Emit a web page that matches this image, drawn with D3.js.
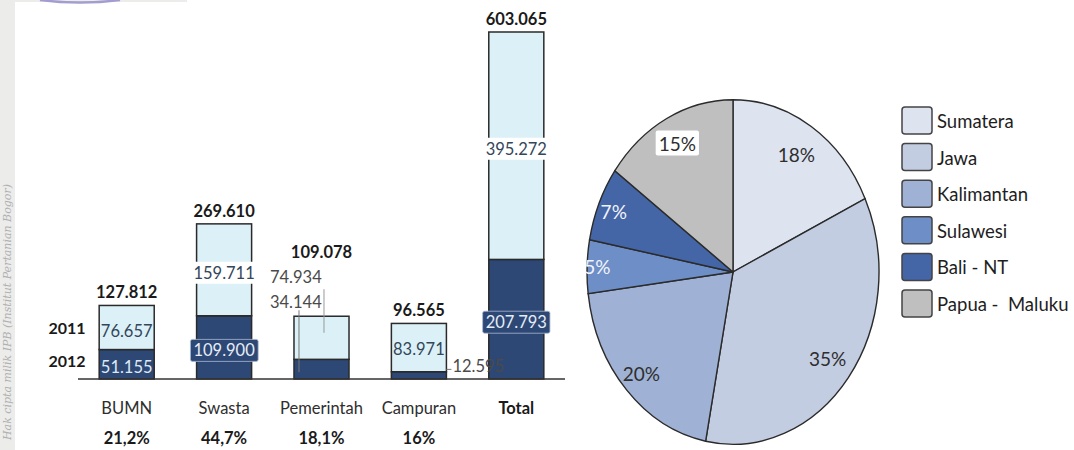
<!DOCTYPE html>
<html><head><meta charset="utf-8">
<script src="https://cdn.jsdelivr.net/npm/d3@7"></script>
<style>body{margin:0;background:#fff} svg{display:block} text{white-space:pre}</style>
</head><body><svg id="c" width="1074" height="450"></svg>
<script>
// ---- data ----
const categories = ["BUMN", "Swasta", "Pemerintah", "Campuran", "Total"];
const shareLabels = ["21,2%", "44,7%", "18,1%", "16%", ""];
const values2012 = [51.155, 109.900, 34.144, 12.595, 207.793];
const values2011 = [76.657, 159.711, 74.934, 83.971, 395.272];
const totals = [127.812, 269.610, 109.078, 96.565, 603.065];
const yearLabels = ["2011", "2012"];
const regions = ["Sumatera", "Jawa", "Kalimantan", "Sulawesi", "Bali - NT", "Papua -  Maluku"];
const regionShares = [18, 35, 20, 5, 7, 15];

// ---- styles / layout ----
const FONT = "Lato, 'Open Sans', sans-serif";
const DARK = "#2d4874", LIGHT = "#dcf1f7", EDGE = "#2a2a2a";
const regionColors = ["#dde3ef", "#c3cde2", "#9fb1d4", "#6d8ec6", "#4465a6", "#bfbfbf"];
const regionTextColors = ["#2e2e2e", "#2e2e2e", "#2e2e2e", "#f2f4fa", "#f2f4fa", "#2e2e2e"];
const labelRadius = [0.81, 0.82, 0.86, 0.93, 0.89, 0.84];

const svg = d3.select("#c");
svg.append("rect").attr("width", 1074).attr("height", 450).attr("fill", "#fff");

// watermark strip + top band
svg.append("rect").attr("x", 0).attr("y", 0).attr("width", 15).attr("height", 450).attr("fill", "#ececeb");
svg.append("rect").attr("x", 15).attr("y", 0).attr("width", 172).attr("height", 2).attr("fill", "#ececeb");
svg.append("text")
  .attr("transform", "translate(11,440) rotate(-90)")
  .attr("font-family", "'DejaVu Serif', serif").attr("font-style", "italic")
  .attr("font-size", 11).attr("fill", "#b0b0b0")
  .text("Hak cipta milik IPB (Institut Pertanian Bogor)");
svg.append("path").attr("d", "M40,0 Q80,5 120,0").attr("fill", "none").attr("stroke", "#a39dcf").attr("stroke-width", 2.5);

// ---- bar chart ----
const x = d3.scaleBand().domain(categories).range([78, 565]).paddingInner(0.435).paddingOuter(0.2175);
const y = d3.scaleLinear().domain([0, d3.max(totals)]).range([379, 32]);
const bw = x.bandwidth();
const fmt = d3.format(".3f");

const bars = svg.append("g");
categories.forEach((c, i) => {
  const x0 = x(c);
  bars.append("rect").attr("x", x0).attr("y", y(values2012[i])).attr("width", bw)
    .attr("height", y(0) - y(values2012[i])).attr("fill", DARK).attr("stroke", EDGE).attr("stroke-width", 1.5);
  bars.append("rect").attr("x", x0).attr("y", y(totals[i])).attr("width", bw)
    .attr("height", y(values2012[i]) - y(totals[i])).attr("fill", LIGHT).attr("stroke", EDGE).attr("stroke-width", 1.5);
});
// baseline
svg.append("line").attr("x1", 78).attr("x2", 565).attr("y1", y(0)).attr("y2", y(0))
  .attr("stroke", "#333").attr("stroke-width", 1.5);

function label(g, tx, ty, txt, opts = {}) {
  return g.append("text").attr("x", tx).attr("y", ty)
    .attr("text-anchor", opts.anchor || "middle").attr("dominant-baseline", "central")
    .attr("font-family", FONT).attr("font-size", opts.size || 16.5)
    .attr("font-weight", opts.bold ? 700 : 400).attr("fill", opts.color || "#333").text(txt);
}
function boxed(g, tx, ty, txt, fill, stroke, color, size) {
  const gg = g.append("g");
  const r = gg.append("rect");
  const t = label(gg, tx, ty, txt, {color, size});
  const b = t.node().getBBox();
  r.attr("x", b.x - 3).attr("y", b.y - 1).attr("width", b.width + 6).attr("height", b.height + 2)
    .attr("rx", 2).attr("fill", fill).attr("stroke", stroke).attr("stroke-width", 0.8);
}

const lab = svg.append("g");
categories.forEach((c, i) => {
  const cx = x(c) + bw / 2;
  const mid11 = (y(totals[i]) + y(values2012[i])) / 2 + 3;
  const mid12 = (y(values2012[i]) + y(0)) / 2 + 3;
  // total labels
  const ty = c === "Pemerintah" ? y(totals[i]) - 64 : y(totals[i]) - 13;
  label(lab, cx, ty, fmt(totals[i]), {bold: true, color: "#1a1a1a"});
  // category + shares
  label(lab, cx, 408, c, {bold: c === "Total", color: c === "Total" ? "#1a1a1a" : "#2e2e2e"});
  if (shareLabels[i]) label(lab, cx, 438, shareLabels[i], {bold: true, color: "#1a1a1a"});

  if (c === "BUMN") {
    label(lab, cx, mid11, fmt(values2011[i]), {color: "#33465a"});
    label(lab, cx, mid12, fmt(values2012[i]), {color: "#dfe8f6"});
  } else if (c === "Swasta" || c === "Total") {
    boxed(lab, cx, mid11, fmt(values2011[i]), "#ffffff", "none", "#33465a");
    boxed(lab, cx, mid12, fmt(values2012[i]), DARK, "#a9bad4", "#e6edf8");
  } else if (c === "Pemerintah") {
    const lx = x(c) - 24;
    label(lab, lx, y(totals[i]) - 39, fmt(values2011[i]), {anchor: "start", color: "#4a4a4a"});
    label(lab, lx, y(totals[i]) - 14, fmt(values2012[i]), {anchor: "start", color: "#4a4a4a"});
    lab.append("line").attr("x1", x(c) + 30).attr("x2", x(c) + 30)
      .attr("y1", y(totals[i]) - 27).attr("y2", mid11 - 8).attr("stroke", "#999").attr("stroke-width", 1);
    lab.append("line").attr("x1", x(c) + 5).attr("x2", x(c) + 5)
      .attr("y1", y(totals[i]) - 6).attr("y2", mid12).attr("stroke", "#777").attr("stroke-width", 1);
  } else if (c === "Campuran") {
    label(lab, cx, mid11 - 2, fmt(values2011[i]), {color: "#33465a"});
    label(lab, x(c) + bw + 6, mid12 - 12, fmt(values2012[i]), {anchor: "start", color: "#4a4a4a"});
    lab.append("line").attr("x1", x(c) + bw).attr("x2", x(c) + bw + 5)
      .attr("y1", mid12 - 9).attr("y2", mid12 - 9).attr("stroke", "#777").attr("stroke-width", 1);
  }
});
// year labels
label(lab, 67, (y(totals[0]) + y(values2012[0])) / 2, yearLabels[0], {bold: true, color: "#1a1a1a", size: 16});
label(lab, 67, (y(values2012[0]) + y(0)) / 2 - 4, yearLabels[1], {bold: true, color: "#1a1a1a", size: 16});

// ---- pie ----
const R = 146, SY = 1.18, PCX = 733, PCY = 272;
const pie = d3.pie().sort(null).value(d => d)(regionShares);
const arc = d3.arc().innerRadius(0).outerRadius(R);
const pg = svg.append("g").attr("transform", `translate(${PCX},${PCY}) scale(1,${SY})`);
pg.selectAll("path").data(pie).join("path")
  .attr("d", arc).attr("fill", (d, i) => regionColors[i])
  .attr("stroke", "#2b2b2b").attr("stroke-width", 1.4).attr("vector-effect", "non-scaling-stroke");

const pl = svg.append("g");
pie.forEach((d, i) => {
  const a = (d.startAngle + d.endAngle) / 2;
  const rr = R * labelRadius[i];
  const px = PCX + Math.sin(a) * rr, py = PCY - Math.cos(a) * rr * SY;
  const txt = regionShares[i] + "%";
  if (i === 5) boxed(pl, px, py, txt, "#fff", "none", "#2e2e2e", 19);
  else label(pl, px, py, txt, {color: regionTextColors[i], size: 19});
});

// ---- legend ----
const lg = svg.append("g");
regions.forEach((r, i) => {
  const ly = 107 + i * 36.6;
  lg.append("rect").attr("x", 902).attr("y", ly).attr("width", 30).attr("height", 27).attr("rx", 3)
    .attr("fill", regionColors[i]).attr("stroke", "#444").attr("stroke-width", 1.5);
  label(lg, 937, ly + 14, r, {anchor: "start", color: "#1e1e1e", size: 18.5});
});
</script></body></html>
